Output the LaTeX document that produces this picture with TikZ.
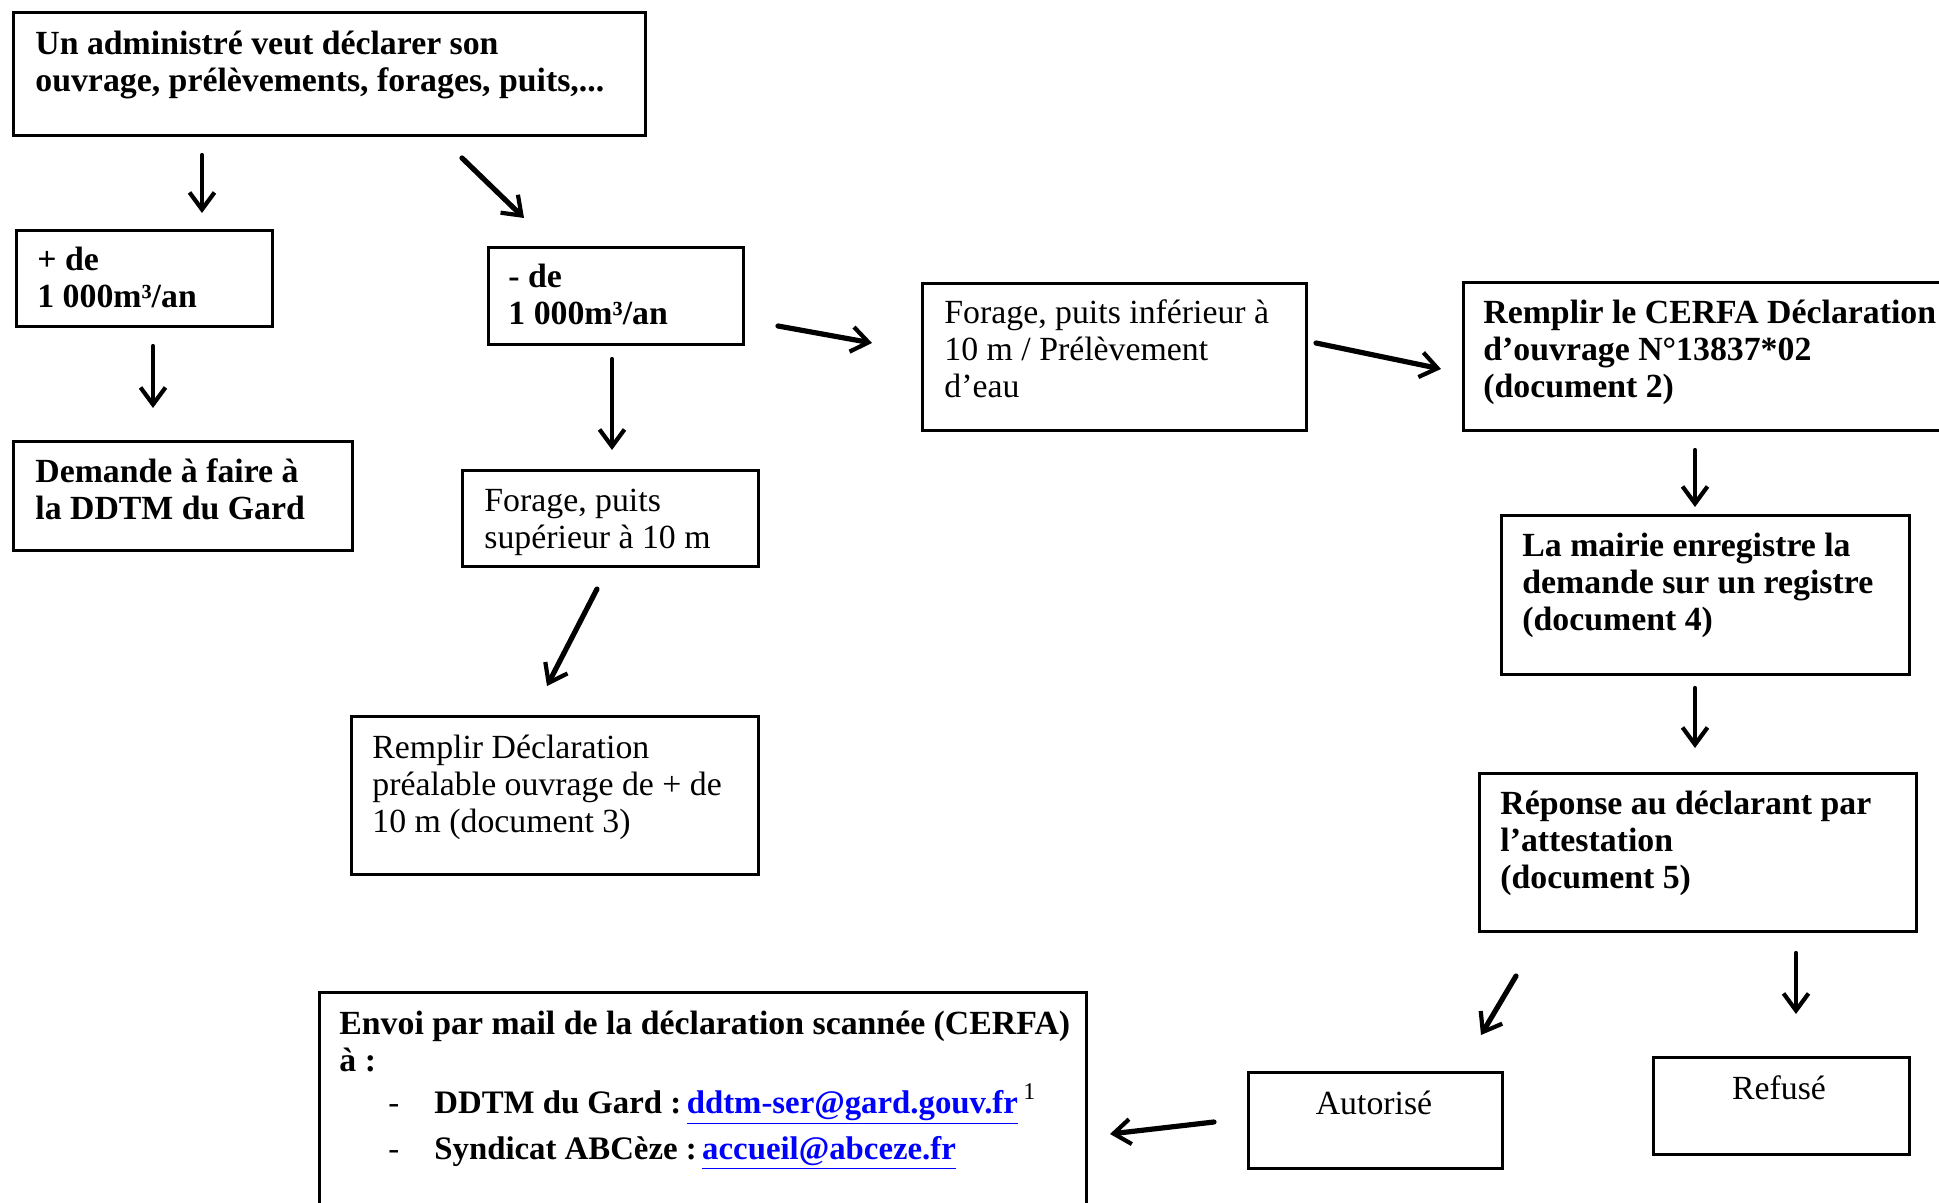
\documentclass[tikz,border=0pt]{standalone}
\usepackage{fontspec}
\setmainfont{Liberation Serif}
\usetikzlibrary{arrows.meta}
\definecolor{linkblue}{RGB}{0,0,255}
\tikzset{
  box/.style={draw, line width=1.3pt, anchor=north west, inner sep=0pt},
  txt/.style={anchor=base west, inner sep=0pt},
  ctxt/.style={anchor=base, inner sep=0pt, font=\fontsize{16.9}{18.5}\selectfont},
  arr/.style={line width=2.1pt, line cap=round, -{Straight Barb[length=8.5pt,width=12.5pt,line width=2.1pt]}},
  darr/.style={arr, line width=2.6pt},
}
\newcommand\mkbox[5]{\node[box, minimum width={(#4-#2)*0.5pt}, minimum height={(#5-#3)*0.5pt}] (#1) at (#2,#3) {};}
\newcommand\lines[1]{\begin{minipage}[t]{440pt}\fontsize{16.9}{18.5}\selectfont #1\end{minipage}}
\newcommand\blines[1]{\begin{minipage}[t]{440pt}\fontsize{16.4}{18.5}\selectfont #1\end{minipage}}
\begin{document}
\begin{tikzpicture}[x=0.5pt,y=-0.5pt]
\clip (0,0) rectangle (1939,1203);
\fill[white] (0,0) rectangle (1939,1203);
% boxes
\mkbox{top}{12}{11}{644}{134}
\mkbox{plus}{15}{229}{271}{325}
\mkbox{dem}{12}{440}{351}{549}
\mkbox{minus}{487}{246}{742}{343}
\mkbox{sup}{461}{469}{757}{565}
\mkbox{decl}{350}{715}{757}{873}
\mkbox{inf}{921}{282}{1305}{429}
\mkbox{cerfa}{1462}{281}{1960}{429}
\mkbox{mairie}{1500}{514}{1908}{673}
\mkbox{rep}{1478}{772}{1915}{930}
\mkbox{aut}{1247}{1071}{1501}{1167}
\mkbox{ref}{1652}{1056}{1908}{1153}
\mkbox{envoi}{318}{991}{1085}{1230}
% texts
\node[txt] (topt) at (35,55) {\lines{\bfseries Un administré veut déclarer son\\ouvrage, prélèvements, forages, puits,...}};
\node[txt] (plust) at (37,271) {\lines{\bfseries + de\\1 000m³/an}};
\node[txt] (demt) at (35,483) {\lines{\bfseries Demande à faire à\\la DDTM du Gard}};
\node[txt] (minust) at (508,288) {\lines{\bfseries - de\\1 000m³/an}};
\node[txt] (supt) at (484,512) {\lines{Forage, puits\\supérieur à 10 m}};
\node[txt] (declt) at (372,758) {\lines{Remplir Déclaration\\préalable ouvrage de + de\\10 m (document 3)}};
\node[txt] (inft) at (944,324) {\lines{Forage, puits inférieur à\\10 m / Prélèvement\\d’eau}};
\node[txt] (cerfat) at (1483,324) {\lines{\bfseries Remplir le CERFA Déclaration\\d’ouvrage N°13837*02\\(document 2)}};
\node[txt] (mairiet) at (1522,556) {\lines{\bfseries La mairie enregistre la\\demande sur un registre\\(document 4)}};
\node[txt] (rept) at (1500,814) {\lines{\bfseries Réponse au déclarant par\\l’attestation\\(document 5)}};
\node[ctxt] (autt) at (1374,1114) {Autorisé};
\node[ctxt] (reft) at (1779,1099) {Refusé};
\node[txt] (envoit) at (339,1034) {\lines{\bfseries Envoi par mail de la déclaration scannée (CERFA)\\à :}};
\node[txt] (d1) at (388,1113) {\blines{-}};
\node[txt] (l1) at (434,1113) {\blines{\bfseries DDTM du Gard :\,\textcolor{linkblue}{\underline{ddtm-ser@gard.gouv.fr}}\,\raisebox{0.4em}{\mdseries\fontsize{12}{12}\selectfont 1}}};
\node[txt] (d2) at (388,1159) {\blines{-}};
\node[txt] (l2) at (434,1159) {\blines{\bfseries Syndicat ABCèze :\,\textcolor{linkblue}{\underline{accueil@abceze.fr}}}};
% arrows
\coordinate (a1s) at (202,155); \coordinate (a1e) at (202,213);
\coordinate (a2s) at (462,158); \coordinate (a2e) at (524,218);
\coordinate (a3s) at (153,346); \coordinate (a3e) at (153,408);
\coordinate (a4s) at (612,359); \coordinate (a4e) at (612,450);
\coordinate (a5s) at (778,326); \coordinate (a5e) at (872,343);
\coordinate (a6s) at (597,589); \coordinate (a6e) at (547,686);
\coordinate (a7s) at (1316,343); \coordinate (a7e) at (1441,369);
\coordinate (a8s) at (1695,450); \coordinate (a8e) at (1695,507);
\coordinate (a9s) at (1695,688); \coordinate (a9e) at (1695,748);
\coordinate (a10s) at (1516,976); \coordinate (a10e) at (1481,1035);
\coordinate (a11s) at (1796,953); \coordinate (a11e) at (1796,1014);
\coordinate (a12s) at (1214,1122); \coordinate (a12e) at (1110,1134);
\foreach \i in {1,3,4,8,9,11} {\draw[arr] (a\i s) -- (a\i e);}
\foreach \i in {2,5,6,7,10,12} {\draw[darr] (a\i s) -- (a\i e);}
\end{tikzpicture}
\end{document}
